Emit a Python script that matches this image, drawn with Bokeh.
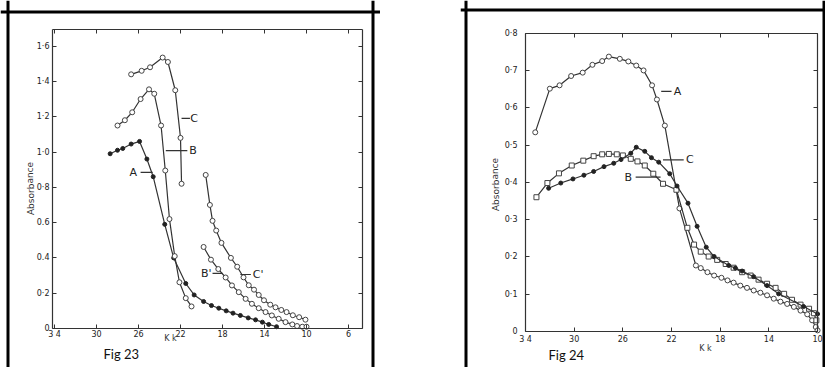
from bokeh.plotting import figure
from bokeh.layouts import row
from bokeh.models import (FixedTicker, Label, Range1d, LinearAxis, ColumnDataSource, Span,
                          CustomJSTickFormatter, AllLabels)
from bokeh.core.properties import value
from bokeh.embed import file_html
from bokeh.resources import INLINE

# ---------------- Fig 23 data (x = kK, y = absorbance) ----------------
f23_a_x = [28.7, 28.0, 27.5, 26.7, 25.9, 25.2, 24.6, 23.5, 22.65, 21.5, 20.7, 19.8, 19.05,
           18.35, 17.65, 17.0, 16.3, 15.55, 14.85, 14.2, 13.6, 12.85]
f23_a_y = [0.99, 1.01, 1.02, 1.045, 1.06, 0.96, 0.86, 0.59, 0.40, 0.255, 0.19, 0.153, 0.13,
           0.115, 0.10, 0.087, 0.074, 0.06, 0.049, 0.036, 0.023, 0.01]
f23_b_x = [28.0, 27.3, 26.6, 25.8, 25.0, 24.5, 23.85, 23.45, 23.05, 22.55, 22.1, 21.5, 20.95]
f23_b_y = [1.15, 1.18, 1.225, 1.30, 1.355, 1.33, 1.15, 0.895, 0.62, 0.41, 0.262, 0.172, 0.125]
f23_c_x = [26.7, 25.7, 24.9, 23.7, 23.2, 22.5, 22.0, 21.9]
f23_c_y = [1.44, 1.46, 1.48, 1.535, 1.51, 1.35, 1.08, 0.82]
f23_b2_x = [19.8, 19.1, 18.4, 17.7, 17.1, 16.45, 15.8, 15.2, 14.55, 13.9, 13.3, 12.65, 12.0,
            11.35, 10.9, 10.4, 10.0]
f23_b2_y = [0.462, 0.39, 0.337, 0.289, 0.244, 0.206, 0.168, 0.14, 0.115, 0.093, 0.074, 0.055,
            0.036, 0.023, 0.014, 0.01, 0.01]
f23_c2_x = [19.6, 19.2, 18.95, 18.6, 18.1, 17.2, 16.6, 16.0, 15.5, 15.0, 14.55, 14.05, 13.45,
            12.95, 12.4, 11.9, 11.3, 10.7, 10.1]
f23_c2_y = [0.87, 0.70, 0.61, 0.555, 0.485, 0.40, 0.35, 0.29, 0.245, 0.22, 0.19, 0.16, 0.135,
            0.12, 0.105, 0.093, 0.075, 0.064, 0.05]

f23_xlim = [34.19, 4.667]
f23_ylim = [0.0, 1.694]
f23_xticks = [34, 30, 26, 22, 18, 14, 10, 6]
f23_xlabels = ["3 4", "30", "26", "22", "18", "14", "10", "6"]
f23_yticks = [0, 0.2, 0.4, 0.6, 0.8, 1.0, 1.2, 1.4, 1.6]
f23_ylabels = ["0", "0·2", "0.4", "0.6", "0·8", "1·0", "1·2", "1·4", "1·6"]

# curve labels: text, text x, text y, leader x0, leader x1
f23_lab_text = ["C", "B", "A", "B'", "C'"]
f23_lab_x = [20.7, 20.8, 26.5, 19.55, 14.6]
f23_lab_y = [1.19, 1.008, 0.884, 0.312, 0.306]
f23_lead_x0 = [21.9, 23.4, 25.8, 18.95, 16.3]
f23_lead_x1 = [21.1, 21.35, 24.65, 18.0, 15.3]

# ---------------- Fig 24 data ----------------
f24_a_x = [33.2, 32.0, 31.2, 30.25, 29.3, 28.5, 27.7, 27.15, 26.25, 25.55, 24.9, 24.3, 23.6,
           23.2, 22.55, 21.35, 20.0, 19.6, 19.05, 18.5, 17.9, 17.4, 16.9, 16.35, 15.8, 15.25,
           14.7, 14.15, 13.6, 13.05, 12.5, 11.95, 11.4, 10.85, 10.45, 10.15, 10.0]
f24_a_y = [0.534, 0.651, 0.66, 0.685, 0.694, 0.715, 0.725, 0.737, 0.731, 0.724, 0.713, 0.70,
           0.66, 0.622, 0.552, 0.33, 0.177, 0.17, 0.159, 0.15, 0.144, 0.137, 0.131, 0.123,
           0.117, 0.11, 0.104, 0.097, 0.088, 0.08, 0.074, 0.066, 0.056, 0.046, 0.03, 0.012, 0.003]
f24_b_x = [33.1, 32.2, 31.25, 30.2, 29.25, 28.4, 27.7, 27.15, 26.5, 26.0, 25.35, 24.8, 24.2,
           23.5, 22.7, 21.6, 20.7, 20.15, 19.6, 18.95, 18.25, 17.55, 16.9, 16.2, 15.5, 14.85,
           14.15, 13.45, 12.75, 12.1, 11.4, 10.7, 10.3, 10.1]
f24_b_y = [0.36, 0.398, 0.424, 0.445, 0.458, 0.47, 0.475, 0.476, 0.475, 0.472, 0.463, 0.456,
           0.445, 0.423, 0.396, 0.38, 0.278, 0.233, 0.214, 0.201, 0.192, 0.181, 0.171, 0.159,
           0.15, 0.139, 0.128, 0.117, 0.101, 0.085, 0.072, 0.061, 0.049, 0.03]
f24_c_x = [32.1, 31.1, 30.1, 29.2, 28.4, 27.55, 26.75, 26.15, 25.35, 24.9, 24.2, 23.65, 23.05,
           22.15, 21.55, 20.65, 19.9, 19.15, 18.5, 17.3, 16.75, 16.2, 15.25, 14.15, 13.2, 11.15,
           10.0]
f24_c_y = [0.384, 0.398, 0.409, 0.419, 0.429, 0.442, 0.451, 0.461, 0.478, 0.494, 0.483, 0.466,
           0.454, 0.423, 0.39, 0.344, 0.282, 0.226, 0.201, 0.177, 0.17, 0.162, 0.147, 0.123,
           0.101, 0.067, 0.047]

f24_xlim = [34.0, 10.0]
f24_ylim = [0.0, 0.8]
f24_xticks = [34, 30, 26, 22, 18, 14, 10]
f24_xlabels = ["3 4", "30", "26", "22", "18", "14", "10"]
f24_yticks = [0, 0.1, 0.2, 0.3, 0.4, 0.5, 0.6, 0.7, 0.8]
f24_ylabels = ["0", "0·1", "0·2", "0·3", "0·4", "0·5", "0·6", "0·7", "0·8"]

f24_lab_text = ["A", "C", "B"]
f24_lab_x = [21.5, 20.5, 25.55]
f24_lab_y = [0.644, 0.46, 0.414]
f24_lead_x0 = [22.85, 22.7, 24.95]
f24_lead_x1 = [22.0, 21.0, 22.9]

INK = "#333333"
FONT = "DejaVu Sans"
FMT = """
for (let i = 0; i < tvals.length; i++) {
  if (Math.abs(tvals[i] - tick) < 1e-6) { return tlabs[i]; }
}
return "";
"""
H = 367


def px_to_data(px, p0, v0, scale):
    # linear map from a pixel position on the scanned page to a data value
    return v0 + (px - p0) / scale


def make_fig(width, xr, yr, xlim, ylim, xticks, xlabels, yticks, ylabels,
             xstand, ystand):
    p = figure(width=width, height=H, x_range=Range1d(*xr), y_range=Range1d(*yr),
               output_backend="svg", toolbar_location=None,
               min_border_left=0, min_border_right=0, min_border_top=0, min_border_bottom=0,
               background_fill_color="white", border_fill_color="white",
               x_axis_location=None, y_axis_location=None)
    p.grid.visible = False
    p.outline_line_color = None

    def axis(ticks, labs, loc, bounds, show, stand, use_js):
        kw = dict(ticker=FixedTicker(ticks=ticks), major_label_policy=AllLabels(),
                  fixed_location=loc, bounds=bounds,
                  major_tick_in=4, major_tick_out=0, minor_tick_line_color=None,
                  axis_line_color=INK, axis_line_width=1.2,
                  major_tick_line_color=INK, major_label_standoff=stand,
                  major_label_text_font=FONT, major_label_text_font_size="8px",
                  major_label_text_color="#222222" if show else None)
        if use_js:
            kw["formatter"] = CustomJSTickFormatter(args=dict(tvals=ticks, tlabs=labs),
                                                    code=FMT)
        else:
            kw["major_label_overrides"] = {t: s for t, s in zip(ticks, labs)}
        return LinearAxis(**kw)

    xb = tuple(sorted(xlim))
    p.add_layout(axis(xticks, xlabels, ylim[0], xb, True, xstand, False), "below")
    p.add_layout(axis(xticks, xlabels, ylim[1], xb, False, 0, False), "above")
    p.add_layout(axis(yticks, ylabels, xlim[0], tuple(ylim), True, ystand, True), "left")
    p.add_layout(axis(yticks, ylabels, xlim[1], tuple(ylim), False, 0, True), "right")
    return p


def box(p, xl, xr, yt):
    for loc, dim in [(xl, "height"), (xr, "height"), (yt, "width")]:
        p.add_layout(Span(location=loc, dimension=dim, line_color="black", line_width=3))


def curve(p, xs, ys, marker):
    src = ColumnDataSource(dict(x=xs, y=ys))
    p.line("x", "y", source=src, line_color=INK, line_width=1.2)
    if marker == "dot":
        p.scatter("x", "y", source=src, marker="circle", size=4, fill_color="#222222",
                  line_color="#222222")
    else:
        p.scatter("x", "y", source=src, marker=marker, size=5, fill_color="white",
                  line_color="#444444", line_width=1)


def labels(p, texts, lx, ly, x0, x1):
    p.segment(x0=x0, y0=ly, x1=x1, y1=ly, line_color=INK, line_width=1.2)
    src = ColumnDataSource(dict(x=lx, y=ly, t=texts))
    p.text("x", "y", text="t", source=src, text_font_size="11px", text_align="center",
           text_baseline="middle", text_color="#222222", text_font=value(FONT))


def note(p, x, y, text, size, font=FONT, align="center", angle=0.0, color="#333333"):
    p.add_layout(Label(x=x, y=y, text=text, text_font=font, text_font_size=size,
                       text_align=align, text_baseline="middle", angle=angle,
                       text_color=color))


# ---- Fig 23: page px -> data: x = 30 - (px-96)/10.5 ; y = (328-py)/176.5 ----
fx1 = lambda px: px_to_data(px, 96, 30, -10.5)
fy1 = lambda py: px_to_data(py, 328, 0, -176.5)
p1 = make_fig(380, (fx1(0), fx1(380)), (fy1(H), fy1(0)), f23_xlim, f23_ylim,
              f23_xticks, f23_xlabels, f23_yticks, f23_ylabels, 1, 3)
box(p1, fx1(7.5), fx1(372.5), fy1(11.5))
curve(p1, f23_a_x, f23_a_y, "dot")
curve(p1, f23_b_x, f23_b_y, "circle")
curve(p1, f23_c_x, f23_c_y, "circle")
curve(p1, f23_b2_x, f23_b2_y, "circle")
curve(p1, f23_c2_x, f23_c2_y, "circle")
labels(p1, f23_lab_text, f23_lab_x, f23_lab_y, f23_lead_x0, f23_lead_x1)
note(p1, fx1(30), fy1(188), "Absorbance", "9px", angle=1.5708)
note(p1, fx1(170), fy1(338), "K k", "8px")
note(p1, fx1(103), fy1(353), "Fig 23", "13px", font="Lato", align="left", color="#111111")

# ---- Fig 24: page px -> data: x = 34 - (px-525)/12.17 ; y = (331-py)/373 ----
fx2 = lambda px: px_to_data(px, 525, 34, -12.17)
fy2 = lambda py: px_to_data(py, 331, 0, -373.0)
p2 = make_fig(365, (fx2(460), fx2(825)), (fy2(H), fy2(0)), f24_xlim, f24_ylim,
              f24_xticks, f24_xlabels, f24_yticks, f24_ylabels, 3, 8)
box(p2, fx2(465.5), fx2(823.5), fy2(9.5))
curve(p2, f24_a_x, f24_a_y, "circle")
curve(p2, f24_b_x, f24_b_y, "square")
curve(p2, f24_c_x, f24_c_y, "dot")
labels(p2, f24_lab_text, f24_lab_x, f24_lab_y, f24_lead_x0, f24_lead_x1)
note(p2, fx2(495), fy2(184), "Absorbance", "9px", angle=1.5708)
note(p2, fx2(705), fy2(348), "K k", "8px")
note(p2, fx2(548), fy2(354), "Fig 24", "13px", font="Lato", align="left", color="#111111")

layout = row(p1, p2, spacing=80)
open("out.html", "w").write(file_html(layout, INLINE))
